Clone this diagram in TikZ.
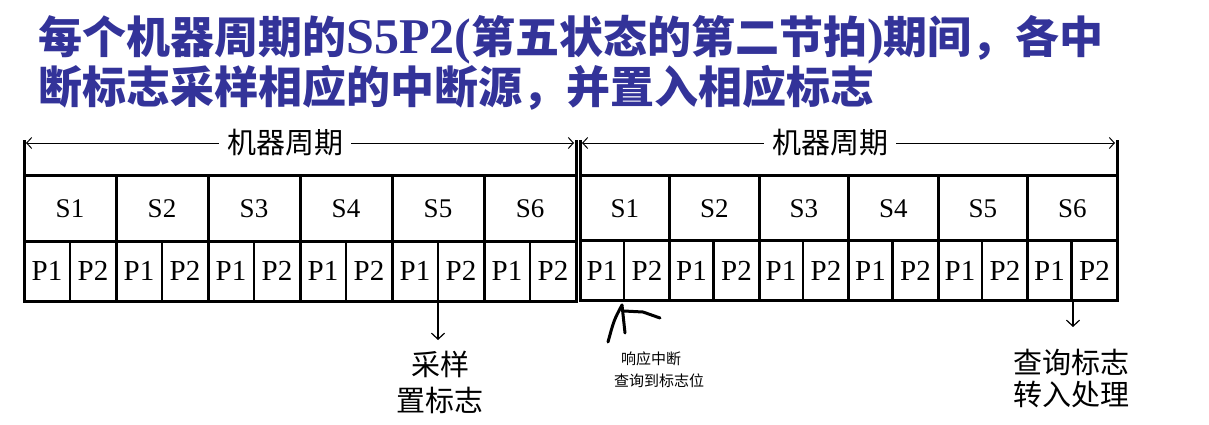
\documentclass[tikz,border=0pt]{standalone}
\usepackage{fontspec}
\setmainfont{Liberation Serif}
\newfontfamily\cjk{Noto Sans CJK SC}
\usetikzlibrary{arrows.meta}
\definecolor{titleblue}{RGB}{51,51,153}
\tikzset{
  title/.style={font=\fontsize{44}{44}\selectfont\bfseries, text=titleblue, inner sep=0pt, anchor=base west},
  tbl/.style={line width=3pt},
  pdiv/.style={line width=2.4pt},
  header/.style={font=\cjk\fontsize{29}{29}\selectfont, inner sep=0pt},
  span/.style={line width=1pt, -{Straight Barb[length=5pt,width=11pt]}},
  slab/.style={font=\fontsize{27}{27}\selectfont, inner sep=0pt},
  plab/.style={font=\fontsize{29}{29}\selectfont, inner sep=0pt},
  note/.style={font=\cjk\fontsize{29}{36}\selectfont, align=center, inner sep=0pt},
  small/.style={font=\cjk\fontsize{15}{15}\selectfont, inner sep=0pt, anchor=west},
  down/.style={line width=1.2pt, -{Straight Barb[length=6pt,width=13pt]}},
  hand/.style={line width=3pt, line cap=round, line join=round}
}
\newcommand{\latinpart}[1]{{\rmfamily\bfseries\fontsize{50}{50}\selectfont #1}}
\begin{document}
\begin{tikzpicture}[x=1pt,y=-1pt]
\path[fill=white] (0,0) rectangle (1209,425);
\useasboundingbox (0,0) rectangle (1209,425);

% title
\node[title] (t1) at (38,54) {\cjk 每个机器周期的\latinpart{S5P2(}第五状态的第二节拍\latinpart{)}期间，各中};
\node[title] (t2) at (38,103) {\cjk 断标志采样相应的中断源，并置入相应标志};

% left table
\draw[tbl] (24,175) rectangle (576,301);
\draw[tbl] (24,140) -- (24,175) (576,140) -- (576,175);
\draw[tbl] (24,241) -- (576,241);
\foreach \i in {1,...,5} \draw[tbl] ({24+92*\i},175) -- ({24+92*\i},301);
\foreach \i in {0,...,5} {
  \draw[pdiv] ({70+92*\i},241) -- ({70+92*\i},301);
  \pgfmathtruncatemacro{\n}{\i+1}
  \node[slab] (sL\n) at ({70+92*\i},209) {S\n};
  \node[plab] (pLa\n) at ({47+92*\i},271) {P1};
  \node[plab] (pLb\n) at ({93+92*\i},271) {P2};
}
\coordinate (lL) at (26,143);
\coordinate (lR) at (574,143);
\node[header] (hL) at (285,143) {机器周期};
\draw[span] ([xshift=-8pt]hL.west) -- (lL);
\draw[span] ([xshift=8pt]hL.east) -- (lR);

% right table
\draw[tbl] (580,175) rectangle (1117,300);
\draw[tbl] (580,140) -- (580,175) (1117,140) -- (1117,175);
\draw[tbl] (580,240) -- (1117,240);
\foreach \i in {1,...,5} \draw[tbl] ({580+89.5*\i},175) -- ({580+89.5*\i},300);
\foreach \i in {0,...,5} {
  \draw[pdiv] ({624+89.5*\i},240) -- ({624+89.5*\i},300);
  \pgfmathtruncatemacro{\n}{\i+1}
  \node[slab] (sR\n) at ({624.75+89.5*\i},209) {S\n};
  \node[plab] (pRa\n) at ({602+89.5*\i},271) {P1};
  \node[plab] (pRb\n) at ({647+89.5*\i},271) {P2};
}
\coordinate (rL) at (582,143);
\coordinate (rR) at (1115,143);
\node[header] (hR) at (830,143) {机器周期};
\draw[span] ([xshift=-8pt]hR.west) -- (rL);
\draw[span] ([xshift=8pt]hR.east) -- (rR);

% annotations
\coordinate (a1) at (438,302);
\coordinate (a1e) at (438,340);
\draw[down] (a1) -- (a1e);
\node[note] (samp) at (440,382) {采样\\置标志};

\coordinate (a2) at (1073,301);
\coordinate (a2e) at (1073,327);
\draw[down] (a2) -- (a2e);
\node[note, font=\cjk\fontsize{29}{32}\selectfont] (query) at (1071,378) {查询标志\\转入处理};

% handwritten strokes
\draw[hand] (622,305) .. controls (614,320) .. (608,342);
\draw[hand] (622,305) -- (625,333);
\draw[hand] (624,311) -- (643,312) -- (660,318);
\node[small] (r1) at (621,359) {响应中断};
\node[small] (r2) at (614,381) {查询到标志位};
\end{tikzpicture}
\end{document}
